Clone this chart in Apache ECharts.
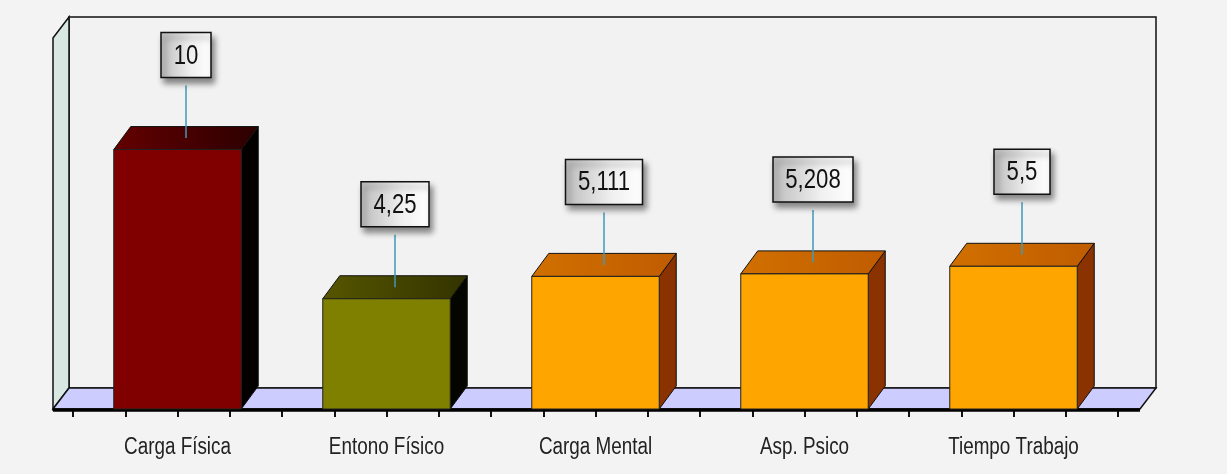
<!DOCTYPE html>
<html>
<head>
<meta charset="utf-8">
<script src="https://cdn.jsdelivr.net/npm/echarts@6/dist/echarts.min.js"></script>
<style>
  html, body { margin: 0; padding: 0; background: #f3f3f3; }
  #chart { width: 1227px; height: 474px; }
</style>
</head>
<body>
<div id="chart"></div>
<script>
const categories = ['Carga Física', 'Entono Físico', 'Carga Mental', 'Asp. Psico', 'Tiempo Trabajo']
const values = [10, 4.25, 5.111, 5.208, 5.5]
const valueLabels = ['10', '4,25', '5,111', '5,208', '5,5']

// bar colours: front face, top face (gradient), side face
const palette = [
  { front: '#800000', top: ['#640000', '#2c0000'], side: '#050000' },
  { front: '#7f7f00', top: ['#565600', '#333300'], side: '#050500' },
  { front: '#ffa500', top: ['#d17000', '#c05c00'], side: '#8a3200' },
  { front: '#ffa500', top: ['#d17000', '#c05c00'], side: '#8a3200' },
  { front: '#ffa500', top: ['#d17000', '#c05c00'], side: '#8a3200' }
]

const DX = 17
const DY = -23
// no narrow font installed, so the text gets squeezed horizontally
const NARROW = 0.82
const labelFont = '27px "Liberation Sans", Arial, sans-serif'
const catFont = '23px "Liberation Sans", Arial, sans-serif'

const measureCtx = document.createElement('canvas').getContext('2d')
function textWidth(t) {
  measureCtx.font = labelFont
  return measureCtx.measureText(t).width * NARROW
}

// walls and floor of the 3d box
function renderFrame(params, api) {
  const cs = params.coordSys
  const fl = cs.x - 20
  const fr = cs.x + cs.width + 22
  const ft = cs.y
  const fb = cs.y + cs.height
  const bx = 16, by = -21
  return {
    type: 'group',
    children: [
      {
        type: 'polygon',
        shape: { points: [[fl + bx, ft + by], [fr + bx, ft + by], [fr + bx, fb + by], [fl + bx, fb + by]] },
        style: { fill: '#f2f2f2', stroke: '#111', lineWidth: 1.5 }
      },
      {
        type: 'polygon',
        shape: { points: [[fl, ft], [fl + bx, ft + by], [fl + bx, fb + by], [fl, fb]] },
        style: { fill: '#d9e7e2', stroke: '#111', lineWidth: 1.5 }
      },
      {
        type: 'polygon',
        shape: { points: [[fl, fb], [fl + bx, fb + by], [fr + bx, fb + by], [fr, fb]] },
        style: { fill: '#ccccff', stroke: '#111', lineWidth: 1.5 }
      },
      {
        type: 'line',
        shape: { x1: fl, y1: fb + 1, x2: fr, y2: fb + 1 },
        style: { stroke: '#000', lineWidth: 3.5 }
      }
    ]
  }
}

function renderBar(params, api) {
  const i = api.value(0)
  const base = api.coord([i, 0])
  const top = api.coord([i, api.value(1)])
  const w = api.size([1, 0])[0] * 0.61
  const x0 = base[0] - w / 2
  const x1 = base[0] + w / 2
  const yb = base[1]
  const yt = top[1]
  const c = palette[i]

  const text = valueLabels[i]
  const bw = Math.round(textWidth(text) + 25)
  const bh = 45
  const cx = base[0] + DX / 2
  const bxl = cx - bw / 2
  const byt = yt - 117

  return {
    type: 'group',
    children: [
      {
        type: 'polygon',
        shape: { points: [[x1, yt], [x1 + DX, yt + DY], [x1 + DX, yb + DY], [x1, yb]] },
        style: { fill: c.side, stroke: '#111', lineWidth: 1 }
      },
      {
        type: 'polygon',
        shape: { points: [[x0, yt], [x0 + DX, yt + DY], [x1 + DX, yt + DY], [x1, yt]] },
        style: {
          fill: new echarts.graphic.LinearGradient(0, 0, 1, 0, [
            { offset: 0, color: c.top[0] },
            { offset: 1, color: c.top[1] }
          ]),
          stroke: '#111',
          lineWidth: 1
        }
      },
      {
        type: 'rect',
        shape: { x: x0, y: yt, width: w, height: yb - yt },
        style: { fill: c.front, stroke: '#222', lineWidth: 1 }
      },
      {
        type: 'line',
        shape: { x1: cx, y1: byt + bh + 8, x2: cx, y2: yt + DY / 2 },
        style: { stroke: '#3f9ab8', lineWidth: 1.5 }
      },
      {
        type: 'rect',
        shape: { x: bxl, y: byt, width: bw, height: bh },
        style: {
          fill: new echarts.graphic.LinearGradient(0, 0, 1, 0, [
            { offset: 0, color: '#bcbcbc' },
            { offset: 0.6, color: '#f0f0f0' },
            { offset: 1, color: '#ffffff' }
          ]),
          stroke: '#111',
          lineWidth: 1.5,
          shadowBlur: 6,
          shadowOffsetX: 3,
          shadowOffsetY: 5,
          shadowColor: 'rgba(0,0,0,0.45)'
        }
      },
      {
        type: 'text',
        x: cx,
        y: byt + bh / 2 + 1,
        scaleX: NARROW,
        style: {
          text: text,
          font: labelFont,
          fill: '#111',
          align: 'center',
          verticalAlign: 'middle'
        }
      },
      {
        type: 'text',
        x: base[0],
        y: yb + 39,
        scaleX: NARROW,
        style: {
          text: categories[i],
          font: catFont,
          fill: '#222',
          align: 'center',
          verticalAlign: 'middle'
        }
      }
    ]
  }
}

const chart = echarts.init(document.getElementById('chart'))
chart.setOption({
  backgroundColor: '#f3f3f3',
  animation: false,
  grid: { left: 73, right: 109, top: 38, bottom: 65 },
  xAxis: [
    {
      type: 'category',
      data: categories,
      axisLine: { show: false },
      axisTick: { show: false },
      axisLabel: { show: false }
    },
    {
      type: 'value',
      position: 'bottom',
      min: 0,
      max: 5,
      interval: 0.25,
      axisLine: { show: false },
      axisLabel: { show: false },
      splitLine: { show: false },
      axisTick: { show: true, length: 8, lineStyle: { color: '#111', width: 2 } }
    }
  ],
  yAxis: {
    type: 'value',
    min: 0,
    max: 14.3,
    show: false
  },
  series: [
    {
      type: 'custom',
      xAxisIndex: 0,
      renderItem: renderFrame,
      data: [[0, 0]],
      z: 1,
      silent: true
    },
    {
      type: 'custom',
      xAxisIndex: 0,
      renderItem: renderBar,
      data: values.map((v, i) => [i, v]),
      z: 2
    }
  ]
})
</script>
</body>
</html>
